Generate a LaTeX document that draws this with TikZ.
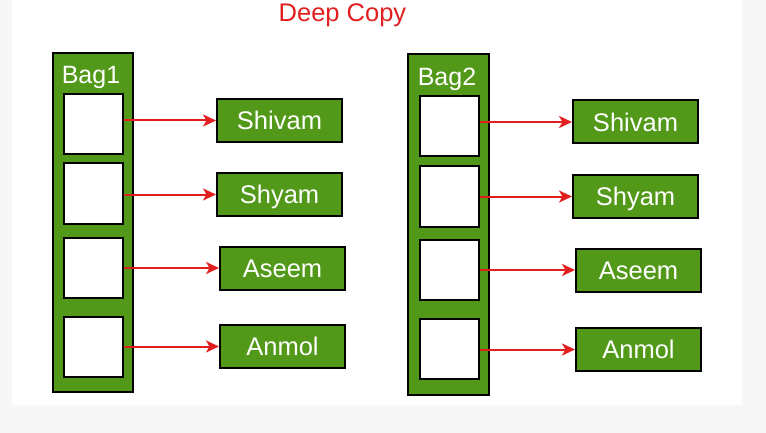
\documentclass[tikz,border=0pt]{standalone}
\usepackage{fontspec}
\setmainfont{Liberation Sans}
\usetikzlibrary{arrows.meta}
\definecolor{gfggreen}{HTML}{52991A}
\definecolor{arrred}{HTML}{E11F1F}
\definecolor{pagegray}{HTML}{F7F7F7}
\tikzset{
  bagbox/.style={draw=black, line width=2pt, fill=gfggreen, inner sep=0pt},
  cellbox/.style={draw=black, line width=2pt, fill=white, inner sep=0pt, minimum width=59pt, minimum height=60pt},
  namebox/.style={draw=black, line width=2pt, fill=gfggreen, inner sep=0pt, minimum width=125pt, minimum height=43pt,
    text=white, font=\fontsize{25.5}{30}\selectfont, text height=18.3pt, text depth=0pt},
  baglabel/.style={text=white, font=\fontsize{25}{30}\selectfont, inner sep=0pt, anchor=base},
  ptr/.style={draw=arrred, line width=2pt, -{Stealth[length=13pt, width=12pt, inset=3.5pt]}},
}
\begin{document}
\begin{tikzpicture}[x=1pt, y=-1pt]
  \useasboundingbox (0,0) rectangle (766,433);
  \fill[pagegray] (0,0) rectangle (766,433);
  \fill[white] (12,0) rectangle (742,405);

  \node[text=arrred, font=\fontsize{25.5}{30}\selectfont, inner sep=0pt, anchor=base] (title) at (342.5,22) {Deep Copy};

  % Bag 1
  \node[bagbox, minimum width=80pt, minimum height=339pt] (bag1) at (93,222.5) {};
  \node[baglabel] (lab1) at (91,84) {Bag1};
  \node[cellbox] (c11) at (93.5,124) {};
  \node[cellbox] (c12) at (93.5,193.5) {};
  \node[cellbox] (c13) at (93.5,267.5) {};
  \node[cellbox] (c14) at (93.5,346.5) {};
  \node[namebox] (n11) at (279.5,120.5) {Shivam};
  \node[namebox] (n12) at (279.5,194.5) {Shyam};
  \node[namebox] (n13) at (282.5,268) {Aseem};
  \node[namebox] (n14) at (282.5,346.5) {Anmol};

  % Bag 2
  \node[bagbox, minimum width=81pt, minimum height=341pt] (bag2) at (448.5,224.5) {};
  \node[baglabel] (lab2) at (447,86) {Bag2};
  \node[cellbox] (c21) at (449,126.5) {};
  \node[cellbox] (c22) at (449,196.5) {};
  \node[cellbox] (c23) at (449,269.5) {};
  \node[cellbox] (c24) at (449,348.5) {};
  \node[namebox] (n21) at (635.5,122) {Shivam};
  \node[namebox] (n22) at (635.5,196.5) {Shyam};
  \node[namebox] (n23) at (638.5,270) {Aseem};
  \node[namebox] (n24) at (638.5,349.5) {Anmol};

  % pointers
  \foreach \b in {1,2}{
    \foreach \i in {1,2,3,4}{
      \draw[ptr] (c\b\i.east |- n\b\i.west) -- (n\b\i.west);
    }
  }
\end{tikzpicture}
\end{document}
